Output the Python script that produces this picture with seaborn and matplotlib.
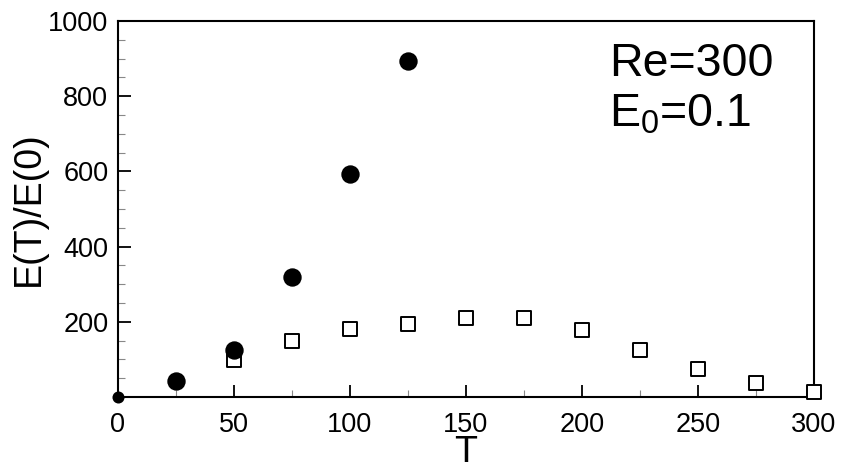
import matplotlib
matplotlib.use("Agg")
import matplotlib.pyplot as plt
from matplotlib.ticker import MultipleLocator
import seaborn as sns
import pandas as pd

# Energy amplification E(T)/E(0) versus target time T
t_circles = [0, 25, 50, 75, 100, 125]
e_circles = [0, 42, 125, 318, 593, 894]

t_squares = [50, 75, 100, 125, 150, 175, 200, 225, 250, 275, 300]
e_squares = [98, 150, 181, 194, 211, 209, 177, 125, 74, 36, 14]

x_ticks = [0, 50, 100, 150, 200, 250, 300]
y_ticks = [200, 400, 600, 800, 1000]

sns.set_theme(style="white")
plt.rcParams["font.family"] = ["Liberation Sans", "DejaVu Sans"]
plt.rcParams["mathtext.fontset"] = "custom"
plt.rcParams["mathtext.rm"] = "Liberation Sans"
plt.rcParams["mathtext.it"] = "Liberation Sans"

circles = pd.DataFrame({"T": t_circles, "E": e_circles})
squares = pd.DataFrame({"T": t_squares, "E": e_squares})

fig = plt.figure(figsize=(8.41, 4.62), dpi=100)
ax = fig.add_axes([0.1403, 0.1407, 0.8276, 0.8138])

sns.scatterplot(data=squares, x="T", y="E", ax=ax, marker="s", s=95,
                facecolor="white", edgecolor="black", linewidth=1.4,
                clip_on=False, zorder=3)
sns.scatterplot(data=circles.iloc[1:], x="T", y="E", ax=ax, marker="o", s=175,
                color="black", edgecolor="black", linewidth=0,
                clip_on=False, zorder=4)
sns.scatterplot(data=circles.iloc[:1], x="T", y="E", ax=ax, marker="o", s=75,
                color="black", edgecolor="black", linewidth=0,
                clip_on=False, zorder=4)

ax.set_xlim(0, 300)
ax.set_ylim(0, 1000)
ax.set_xticks(x_ticks)
ax.set_xticklabels([str(v) for v in x_ticks])
ax.set_yticks(y_ticks)
ax.set_yticklabels([str(v) for v in y_ticks])
ax.xaxis.set_minor_locator(MultipleLocator(25))
ax.yaxis.set_minor_locator(MultipleLocator(50))

ax.tick_params(axis="both", which="major", direction="in", length=9, width=1.3,
               color="black", labelsize=19.5, labelcolor="black",
               bottom=True, left=True, top=False, right=False)
ax.tick_params(axis="x", which="major", pad=11)
ax.tick_params(axis="y", which="major", pad=7)
ax.tick_params(axis="both", which="minor", direction="in", length=5, width=0.8,
               color="#888888", bottom=True, left=True, top=False, right=False)

for side in ["left", "bottom", "top", "right"]:
    ax.spines[side].set_visible(True)
    ax.spines[side].set_color("black")
    ax.spines[side].set_linewidth(1.5)

ax.set_xlabel("T", fontsize=27, color="black", labelpad=-2)
ax.set_ylabel("E(T)/E(0)", fontsize=27, color="black", labelpad=1)

ax.text(0.705, 0.945, "Re=300", transform=ax.transAxes, fontsize=33.5,
        ha="left", va="top", color="black")
ax.text(0.705, 0.81, "E$_0$=0.1", transform=ax.transAxes, fontsize=33.5,
        ha="left", va="top", color="black")

fig.savefig("out.png", dpi=100, facecolor="white")
